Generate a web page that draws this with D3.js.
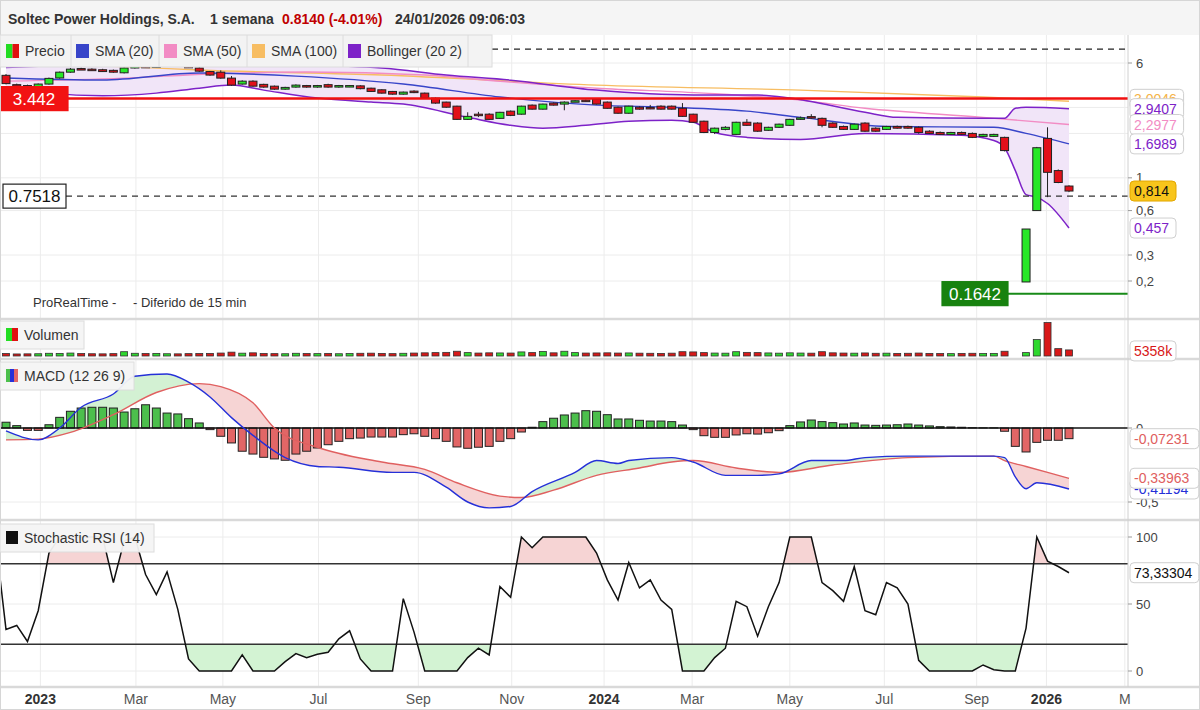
<!DOCTYPE html>
<html><head><meta charset="utf-8">
<script src="https://cdn.jsdelivr.net/npm/d3@7"></script>
<style>
body{margin:0;background:#fff;}
svg text{font-family:"Liberation Sans",Arial,sans-serif;}
</style></head><body>
<script>
// weekly candles, slot 94 has no candle (trading halt)
const open  = [4.95,4.28,4.22,4.05,4.32,4.75,5.20,5.50,5.45,5.40,5.35,5.15,5.55,5.70,5.60,5.75,5.85,5.70,5.55,5.25,
               5.20,4.74,4.32,4.52,4.30,4.18,3.99,4.12,4.22,4.12,4.28,4.12,4.15,4.20,4.05,3.95,3.85,3.69,3.87,3.75,
               3.47,3.26,3.06,2.49,2.70,2.70,2.53,2.83,2.70,3.11,2.92,3.21,3.16,3.28,3.36,3.42,3.26,3.01,2.74,3.01,
               3.00,3.06,3.06,2.96,2.70,2.42,2.03,2.13,1.97,2.38,2.35,2.10,2.20,2.27,2.49,2.60,2.53,2.35,2.23,2.13,
               2.35,2.17,2.13,2.23,2.23,2.20,2.07,2.03,1.97,2.03,2.00,1.91,1.91,1.88,null,0.197,0.60,1.85,1.12,0.88];
const high  = [5.05,4.35,4.28,4.36,4.78,5.25,5.55,5.58,5.52,5.48,5.42,5.60,5.75,5.78,5.80,5.92,5.90,5.75,5.62,5.30,
               5.35,4.90,4.58,4.58,4.34,4.22,4.14,4.30,4.26,4.26,4.34,4.26,4.25,4.24,4.08,3.98,3.88,3.84,3.92,3.78,
               3.50,3.28,3.08,2.78,2.80,2.74,2.80,2.86,3.08,3.14,3.18,3.24,3.30,3.36,3.39,3.45,3.29,3.04,3.08,3.05,
               3.12,3.10,3.09,3.21,2.72,2.44,2.19,2.24,2.40,2.50,2.38,2.22,2.33,2.51,2.60,2.70,2.56,2.38,2.26,2.33,
               2.38,2.20,2.25,2.26,2.26,2.23,2.10,2.06,2.05,2.06,2.03,1.99,1.99,1.90,null,0.45,1.62,2.20,1.14,0.89];
const low   = [4.30,4.12,4.10,4.00,4.28,4.70,5.15,5.38,5.35,5.22,5.15,5.10,5.50,5.55,5.55,5.70,5.65,5.55,5.22,4.92,
               4.70,4.20,4.28,4.15,4.08,3.95,3.95,4.08,4.08,4.08,4.08,4.08,4.12,3.98,3.82,3.72,3.66,3.66,3.75,3.44,
               3.18,2.98,2.47,2.47,2.58,2.47,2.51,2.62,2.68,2.90,2.90,3.09,2.87,3.26,3.29,3.14,2.94,2.72,2.72,2.90,
               2.92,2.90,2.90,2.59,2.36,2.01,1.98,2.10,1.95,2.25,2.05,2.08,2.18,2.25,2.47,2.52,2.20,2.18,2.11,2.11,
               2.05,2.05,2.11,2.15,2.15,1.99,1.98,1.95,1.95,1.95,1.86,1.89,1.89,1.51,null,0.197,0.60,0.74,0.92,0.80];
const close = [4.35,4.20,4.18,4.32,4.72,5.20,5.45,5.42,5.38,5.25,5.20,5.55,5.70,5.60,5.75,5.85,5.70,5.60,5.28,4.97,
               4.74,4.25,4.52,4.18,4.12,3.99,4.10,4.25,4.12,4.22,4.12,4.22,4.22,4.02,3.85,3.75,3.69,3.81,3.78,3.47,
               3.21,3.01,2.49,2.61,2.65,2.49,2.78,2.65,3.06,2.92,3.16,3.11,3.26,3.33,3.31,3.16,2.96,2.74,3.06,2.92,
               2.94,2.92,2.92,2.61,2.38,2.03,2.17,2.20,2.38,2.27,2.07,2.20,2.31,2.49,2.55,2.58,2.27,2.20,2.13,2.31,
               2.07,2.07,2.23,2.17,2.17,2.03,2.00,1.97,2.03,1.97,1.88,1.97,1.97,1.53,null,0.45,1.60,1.09,0.93,0.814];
// volume in thousands
const volume = [2200,1800,1900,2000,2400,2300,2600,2200,2000,1900,2100,3800,2400,2200,2300,2000,1900,2100,2200,2300,
                2600,3400,2500,2800,2200,2100,2000,2400,2200,2100,2300,2000,2200,2400,2500,2300,2100,2400,2600,2800,
                3000,3200,4200,3000,2600,2800,2700,2600,3600,3000,4000,2800,4200,3000,2600,2700,2800,2600,2700,2500,
                2400,2300,2500,3800,3600,3000,2600,2500,3800,3200,3000,2700,2500,2800,2600,2500,3800,2800,2600,2500,
                2700,2400,2500,2300,2400,2600,2300,2200,2100,2300,2400,2200,2300,4200,null,3000,14500,29500,6500,5358];

// indicator lines: [slot, value]
const sma20   = [[0,4.75],[9,4.60],[18,5.13],[27,4.89],[37,4.32],[46,3.53],[55,3.11],[62,3.01],[69,2.83],[74,2.57],[82,2.23],[92,2.20],[95,2.00],[99,1.699]];
const sma50   = [[0,4.52],[11,4.74],[19,5.05],[28,5.21],[39,4.97],[47,4.45],[55,4.05],[65,3.75],[74,3.36],[80,2.96],[91,2.57],[99,2.298]];
const sma100  = [[0,5.95],[12,5.63],[18,5.38],[35,4.97],[55,4.25],[74,3.93],[91,3.53],[99,3.30]];
const bbUpper = [[0,5.60],[3,5.71],[9,5.98],[13,6.07],[18,6.07],[24,5.89],[35,5.55],[41,4.97],[47,4.59],[55,3.93],[64,3.64],[70,3.64],[73,3.47],[80,2.78],[83,2.57],[91,2.53],[93,2.53],[94,2.96],[95,3.01],[99,2.941]];
const bbLower = [[0,4.10],[4,3.75],[9,3.60],[14,3.75],[18,4.05],[21,4.25],[24,3.93],[29,3.47],[34,3.26],[37,3.16],[43,2.57],[47,2.27],[50,2.17],[54,2.27],[58,2.42],[62,2.46],[64,2.38],[66,2.03],[69,1.88],[74,1.82],[80,2.00],[89,1.94],[92,1.79],[93,1.60],[94,1.12],[95,0.77],[96,0.74],[97,0.67],[99,0.457]];

const macdLine = [[0,-0.02],[3,-0.08],[5,0.0],[7,0.14],[10,0.23],[12,0.35],[15,0.365],[17,0.31],[19,0.21],[21,0.07],[23,-0.05],[26,-0.20],[29,-0.26],[31,-0.265],[36,-0.30],[38,-0.30],[41,-0.40],[43,-0.50],[45,-0.54],[47,-0.53],[49,-0.43],[53,-0.30],[55,-0.22],[57,-0.24],[58,-0.22],[62,-0.20],[64,-0.23],[67,-0.32],[70,-0.32],[72,-0.31],[75,-0.22],[78,-0.22],[80,-0.20],[84,-0.19],[92,-0.19],[93,-0.20],[94,-0.33],[95,-0.41],[96,-0.37],[99,-0.412]];
const signalLine = [[0,-0.08],[3,-0.075],[6,-0.03],[10,0.09],[14,0.24],[18,0.30],[20,0.28],[23,0.17],[25,0.0],[29,-0.13],[35,-0.23],[39,-0.28],[42,-0.37],[46,-0.46],[48,-0.47],[51,-0.42],[55,-0.32],[59,-0.27],[62,-0.23],[64,-0.22],[68,-0.27],[72,-0.30],[77,-0.25],[84,-0.20],[92,-0.19],[93,-0.22],[95,-0.26],[99,-0.34]];
const macdHist = [0.039,0.016,-0.016,-0.016,0.022,0.072,0.113,0.135,0.14,0.14,0.135,0.108,0.13,0.157,0.135,0.101,0.095,0.063,0.034,-0.011,
                  -0.056,-0.101,-0.157,-0.176,-0.198,-0.209,-0.218,-0.176,-0.157,-0.135,-0.113,-0.09,-0.072,-0.068,-0.061,-0.061,-0.061,-0.045,-0.039,-0.056,
                  -0.072,-0.09,-0.128,-0.137,-0.13,-0.124,-0.09,-0.072,-0.027,0.005,0.043,0.066,0.088,0.101,0.117,0.113,0.09,0.061,0.061,0.052,
                  0.047,0.047,0.043,0.02,-0.011,-0.052,-0.063,-0.063,-0.047,-0.039,-0.041,-0.032,-0.018,0.016,0.041,0.054,0.043,0.036,0.027,0.034,
                  0.02,0.018,0.02,0.022,0.027,0.02,0.014,0.009,0.007,0.005,0.002,0.001,0.001,-0.022,-0.124,-0.162,-0.097,-0.083,-0.083,-0.072];
// stochastic RSI, first value belongs to the week before slot 0
const stochRsi = [100,
  31,34,22,45,88,100,100,100,100,100,66,97,100,72,57,74,46,9,0,0,
  0,0,12,0,0,0,7,13,10,12.5,14,24,30,9,0,0,0,54,29,0,
  0,0,0,10,17,12,63,55,100,92,100,100,100,100,100,88,68,53,81,62,
  68,53,46,0,0,0,10,17,52,48,26,48,66,100,100,100,66,60,52,78,
  45,42,66,62,50,8,0,0,0,0,0,4.5,1,0,0,32,100,82,78,73.33];

const xTickPos   = [3.2,12.1,20.2,29.1,38.4,47.1,55.7,63.9,73,81.8,90.4,96.9,104.2];
const xTickLabel = ["2023","Mar","May","Jul","Sep","Nov","2024","Mar","May","Jul","Sep","2026","M"];
const priceGrid  = [6,3,2,1,0.6,0.3,0.2];
const priceTicks = [6,1,0.6,0.3,0.2];
const levels = {resist:3.442, dashMid:0.7518, support:0.1642, dashTop:7.45};

const W = 1200, H = 710, R = 1128;
const svg = d3.select("body").append("svg").attr("width", W).attr("height", H);

const x  = d3.scaleLinear().domain([0, 99]).range([6, 1069]);
const yP = d3.scaleLog().domain([0.2, 6]).range([281, 63]);
const yV = d3.scaleLinear().domain([0, 30000]).range([356, 322]);
const yM = d3.scaleLinear().domain([-0.5, 0]).range([502, 428]);
const yS = d3.scaleLinear().domain([0, 100]).range([671, 537]);

const panels = {price:[35,318], vol:[320,358], macd:[360,519], stoch:[521,686]};
const defs = svg.append("defs");
for (const [k, [a, b]] of Object.entries(panels)) {
  defs.append("clipPath").attr("id", "c-" + k).append("rect").attr("x", 0).attr("y", a).attr("width", R).attr("height", b - a);
}

svg.append("rect").attr("width", W).attr("height", H).attr("fill", "#fff");
svg.append("rect").attr("width", W).attr("height", 35).attr("fill", "#f5f5f5");

// vertical grid
svg.append("g").selectAll("line").data(xTickPos).join("line")
  .attr("x1", d => x(d)).attr("x2", d => x(d)).attr("y1", 35).attr("y2", 686)
  .attr("stroke", "#ececec");

// price grid
const gP = svg.append("g").attr("clip-path", "url(#c-price)");
gP.selectAll("line.g").data(priceGrid).join("line")
  .attr("x1", 0).attr("x2", R).attr("y1", d => yP(d)).attr("y2", d => yP(d)).attr("stroke", "#ececec");

const lineP = d3.line().x(d => x(d[0])).y(d => yP(d[1])).curve(d3.curveMonotoneX);
// bollinger fill: below upper, above lower
defs.append("clipPath").attr("id", "bbClip").append("path")
  .attr("d", d3.area().x(d => x(d[0])).y0(35).y1(d => yP(d[1])).curve(d3.curveMonotoneX)(bbLower));
gP.append("path").attr("clip-path", "url(#bbClip)")
  .attr("d", d3.area().x(d => x(d[0])).y0(318).y1(d => yP(d[1])).curve(d3.curveMonotoneX)(bbUpper))
  .attr("fill", "#f1e5f8");

gP.append("path").attr("d", lineP(sma100)).attr("fill", "none").attr("stroke", "#f7bd62").attr("stroke-width", 1.4);
gP.append("path").attr("d", lineP(sma50)).attr("fill", "none").attr("stroke", "#f28cc4").attr("stroke-width", 1.4);
gP.append("path").attr("d", lineP(bbUpper)).attr("fill", "none").attr("stroke", "#7d22c8").attr("stroke-width", 1.5);
gP.append("path").attr("d", lineP(bbLower)).attr("fill", "none").attr("stroke", "#7d22c8").attr("stroke-width", 1.5);
gP.append("path").attr("d", lineP(sma20)).attr("fill", "none").attr("stroke", "#3845c9").attr("stroke-width", 1.4);

// level lines
gP.append("line").attr("x1", 492).attr("x2", R).attr("y1", yP(levels.dashTop)).attr("y2", yP(levels.dashTop))
  .attr("stroke", "#222").attr("stroke-width", 1.2).attr("stroke-dasharray", "6,5");
gP.append("line").attr("x1", 66).attr("x2", R).attr("y1", yP(levels.dashMid)).attr("y2", yP(levels.dashMid))
  .attr("stroke", "#333").attr("stroke-width", 1.3).attr("stroke-dasharray", "6,5");

// candles
const idx = d3.range(open.length).filter(i => open[i] != null);
const up = i => close[i] >= open[i];
const cg = gP.append("g");
cg.selectAll("line").data(idx).join("line")
  .attr("x1", i => x(i)).attr("x2", i => x(i)).attr("y1", i => yP(high[i])).attr("y2", i => yP(low[i]))
  .attr("stroke", "#222").attr("stroke-width", 1);
cg.selectAll("rect").data(idx).join("rect")
  .attr("x", i => x(i) - 4).attr("width", 8)
  .attr("y", i => yP(Math.max(open[i], close[i])))
  .attr("height", i => Math.max(1.5, yP(Math.min(open[i], close[i])) - yP(Math.max(open[i], close[i]))))
  .attr("fill", i => up(i) ? "#27e827" : "#e2101a").attr("stroke", "#222").attr("stroke-width", 1);

gP.append("line").attr("x1", 0).attr("x2", R).attr("y1", yP(levels.resist)).attr("y2", yP(levels.resist))
  .attr("stroke", "#f01010").attr("stroke-width", 2.5);
gP.append("line").attr("x1", 1008).attr("x2", R).attr("y1", yP(levels.support)).attr("y2", yP(levels.support))
  .attr("stroke", "#178a17").attr("stroke-width", 2);

// left level tags
function tag(x0, yc, w, txt, fill, stroke, color) {
  svg.append("rect").attr("x", x0).attr("y", yc - 12).attr("width", w).attr("height", 24)
    .attr("fill", fill).attr("stroke", stroke).attr("stroke-width", 1.2);
  svg.append("text").attr("x", x0 + w / 2).attr("y", yc).attr("dy", "0.36em").attr("text-anchor", "middle")
    .attr("font-size", 17).attr("fill", color).text(txt);
}
tag(0, yP(levels.resist), 68, "3.442", "#f21212", "#f21212", "#fff");
tag(3, yP(levels.dashMid), 63, "0.7518", "#fff", "#222", "#111");
tag(942, yP(levels.support), 66, "0.1642", "#17820f", "#17820f", "#fff");

svg.append("text").attr("x", 33).attr("y", 307).attr("font-size", 13).attr("fill", "#333").text("ProRealTime -");
svg.append("text").attr("x", 133).attr("y", 307).attr("font-size", 13).attr("fill", "#333").text("- Diferido de 15 min");

// volume
const gV = svg.append("g").attr("clip-path", "url(#c-vol)");
gV.selectAll("rect").data(idx).join("rect")
  .attr("x", i => x(i) - 3.5).attr("width", 7)
  .attr("y", i => yV(volume[i])).attr("height", i => yV(0) - yV(volume[i]))
  .attr("fill", i => up(i) ? "#2ed82e" : "#d81818").attr("stroke", "#333").attr("stroke-width", 0.8);

// MACD
const gM = svg.append("g").attr("clip-path", "url(#c-macd)");
gM.append("line").attr("x1", 0).attr("x2", R).attr("y1", yM(-0.5)).attr("y2", yM(-0.5)).attr("stroke", "#ececec");
const areaTo = (yy, base) => d3.area().x(d => x(d[0])).y0(base).y1(d => yy(d[1])).curve(d3.curveMonotoneX);
defs.append("clipPath").attr("id", "belowSig").append("path").attr("d", areaTo(yM, 360)(signalLine));
defs.append("clipPath").attr("id", "belowMacd").append("path").attr("d", areaTo(yM, 360)(macdLine));
gM.append("path").attr("clip-path", "url(#belowSig)").attr("d", areaTo(yM, 519)(macdLine)).attr("fill", "#d3f1d3");
gM.append("path").attr("clip-path", "url(#belowMacd)").attr("d", areaTo(yM, 519)(signalLine)).attr("fill", "#f6d4d4");
gM.selectAll("rect").data(macdHist.map((v, i) => [i, v])).join("rect")
  .attr("x", d => x(d[0]) - 4).attr("width", 8)
  .attr("y", d => Math.min(yM(0), yM(d[1]))).attr("height", d => Math.abs(yM(d[1]) - yM(0)))
  .attr("fill", d => d[1] >= 0 ? "#4cbf4c" : "#e26666").attr("stroke", "#222").attr("stroke-width", 1);
gM.append("line").attr("x1", 0).attr("x2", R).attr("y1", yM(0)).attr("y2", yM(0)).attr("stroke", "#111").attr("stroke-width", 1.5);
const lineM = d3.line().x(d => x(d[0])).y(d => yM(d[1])).curve(d3.curveMonotoneX);
gM.append("path").attr("d", lineM(signalLine)).attr("fill", "none").attr("stroke", "#e06060").attr("stroke-width", 1.4);
gM.append("path").attr("d", lineM(macdLine)).attr("fill", "none").attr("stroke", "#2530d8").attr("stroke-width", 1.4);

// stochastic RSI
const gS = svg.append("g").attr("clip-path", "url(#c-stoch)");
gS.selectAll("line.g").data([100, 50, 0]).join("line")
  .attr("x1", 0).attr("x2", R).attr("y1", d => yS(d)).attr("y2", d => yS(d)).attr("stroke", "#ececec");
const sPts = stochRsi.map((v, i) => [i - 1, v]);
defs.append("clipPath").attr("id", "above80").append("rect").attr("x", 0).attr("y", 521).attr("width", R).attr("height", yS(80) - 521);
defs.append("clipPath").attr("id", "below20").append("rect").attr("x", 0).attr("y", yS(20)).attr("width", R).attr("height", 686 - yS(20));
gS.append("path").attr("clip-path", "url(#above80)")
  .attr("d", d3.area().x(d => x(d[0])).y0(686).y1(d => yS(d[1]))(sPts)).attr("fill", "#f6d4d4");
gS.append("path").attr("clip-path", "url(#below20)")
  .attr("d", d3.area().x(d => x(d[0])).y0(521).y1(d => yS(d[1]))(sPts)).attr("fill", "#d3f3d3");
gS.selectAll("line.l").data([80, 20]).join("line")
  .attr("x1", 0).attr("x2", R).attr("y1", d => yS(d)).attr("y2", d => yS(d)).attr("stroke", "#333").attr("stroke-width", 1.5);
gS.append("path").attr("d", d3.line().x(d => x(d[0])).y(d => yS(d[1]))(sPts))
  .attr("fill", "none").attr("stroke", "#111").attr("stroke-width", 1.5);

// panel separators and right axis line
svg.selectAll("line.sep").data([319, 359, 520, 687]).join("line")
  .attr("x1", 0).attr("x2", W).attr("y1", d => d).attr("y2", d => d).attr("stroke", "#d9d9d9").attr("stroke-width", 2.5);
svg.append("line").attr("x1", R).attr("x2", R).attr("y1", 35).attr("y2", 687).attr("stroke", "#d0d0d0");
svg.append("rect").attr("x", 0.5).attr("y", 0.5).attr("width", W - 1).attr("height", H - 1).attr("fill", "none").attr("stroke", "#d6d6d6");

// right axis labels
const axText = (yy, t) => {
  svg.append("line").attr("x1", R).attr("x2", R + 4).attr("y1", yy).attr("y2", yy).attr("stroke", "#999");
  svg.append("text").attr("x", R + 8).attr("y", yy).attr("dy", "0.35em").attr("font-size", 13).attr("fill", "#444").text(t);
};
priceTicks.forEach(v => axText(yP(v), String(v).replace(".", ",")));
axText(yM(0), "0"); axText(yM(-0.5), "-0,5");
[100, 50, 0].forEach(v => axText(yS(v), String(v)));

function valBox(yc, txt, color, fill, stroke) {
  svg.append("rect").attr("x", 1130).attr("y", yc - 10).attr("width", txt.length * 7.6 + 8).attr("height", 20).attr("rx", 4)
    .attr("fill", fill || "#fff").attr("stroke", stroke || "#cfcfcf");
  svg.append("text").attr("x", 1134).attr("y", yc).attr("dy", "0.36em").attr("font-size", 14).attr("fill", color).text(txt);
}
valBox(yP(sma100[sma100.length - 1][1]) - 2, "3,0046", "#f5b347");
valBox(yP(2.941), "2,9407", "#7d22c8");
valBox(yP(2.298), "2,2977", "#f28cc4");
valBox(yP(1.699), "1,6989", "#7d22c8");
valBox(yP(0.814), "0,814", "#111", "#f8c51c", "#e3a700");
valBox(yP(0.457), "0,457", "#7d22c8");
valBox(yV(5358) + 1, "5358k", "#d81818");
valBox(yM(-0.0723), "-0,07231", "#e06060");
valBox(yM(-0.412), "-0,41194", "#2530d8");
valBox(yM(-0.3396), "-0,33963", "#e06060");
valBox(yS(73.333), "73,33304", "#111");

// x axis labels
svg.selectAll("text.xt").data(xTickPos).join("text")
  .attr("x", d => x(d)).attr("y", 704).attr("text-anchor", "middle").attr("font-size", 14)
  .attr("font-weight", (d, i) => /^\d{4}$/.test(xTickLabel[i]) ? "bold" : "normal")
  .attr("fill", (d, i) => /^\d{4}$/.test(xTickLabel[i]) ? "#333" : "#555")
  .text((d, i) => xTickLabel[i]);

// title
const title = svg.append("text").attr("x", 8).attr("y", 24).attr("font-size", 14).attr("font-weight", "bold").attr("fill", "#333");
title.append("tspan").text("Soltec Power Holdings, S.A.");
title.append("tspan").attr("x", 210).text("1 semana");
title.append("tspan").attr("x", 282).attr("fill", "#c00000").text("0.8140 (-4.01%)");
title.append("tspan").attr("x", 395).text("24/01/2026 09:06:03");

// legend bar
const legendItems = [["Precio", 6, ["#22dd22", "#e01010"]], ["SMA (20)", 76, ["#3845c9"]], ["SMA (50)", 164, ["#f28cc4"]],
                     ["SMA (100)", 252, ["#f7bd62"]], ["Bollinger (20 2)", 348, ["#7d22c8"]]];
const lg = svg.append("g");
lg.append("rect").attr("x", 0).attr("y", 35).attr("width", 492).attr("height", 32).attr("fill", "#f3f3f3").attr("stroke", "#dcdcdc");
legendItems.forEach(([t, x0, cols], k) => {
  const cw = 13 / cols.length;
  cols.forEach((c, j) => lg.append("rect").attr("x", x0 + j * cw).attr("y", 44).attr("width", cw).attr("height", 14).attr("fill", c));
  lg.append("text").attr("x", x0 + 19).attr("y", 51).attr("dy", "0.36em").attr("font-size", 14).attr("fill", "#333").text(t);
  if (k > 0) lg.append("line").attr("x1", x0 - 5).attr("x2", x0 - 5).attr("y1", 35).attr("y2", 67).attr("stroke", "#dcdcdc");
});
lg.append("line").attr("x1", 468).attr("x2", 468).attr("y1", 35).attr("y2", 67).attr("stroke", "#dcdcdc");

// panel label boxes
function panelLabel(y0, w, txt, cols) {
  svg.append("rect").attr("x", 0).attr("y", y0).attr("width", w).attr("height", 28).attr("fill", "#f4f4f4").attr("fill-opacity", 0.95).attr("stroke", "#dcdcdc");
  const cw = 12 / cols.length;
  cols.forEach((c, j) => svg.append("rect").attr("x", 6 + j * cw).attr("y", y0 + 7).attr("width", cw).attr("height", 13).attr("fill", c));
  svg.append("text").attr("x", 24).attr("y", y0 + 14).attr("dy", "0.36em").attr("font-size", 14).attr("fill", "#333").text(txt);
}
panelLabel(321, 84, "Volumen", ["#22dd22", "#e01010"]);
panelLabel(362, 134, "MACD (12 26 9)", ["#4cbf4c", "#2530d8", "#e26666"]);
panelLabel(524, 154, "Stochastic RSI (14)", ["#111"]);
</script>
</body></html>
